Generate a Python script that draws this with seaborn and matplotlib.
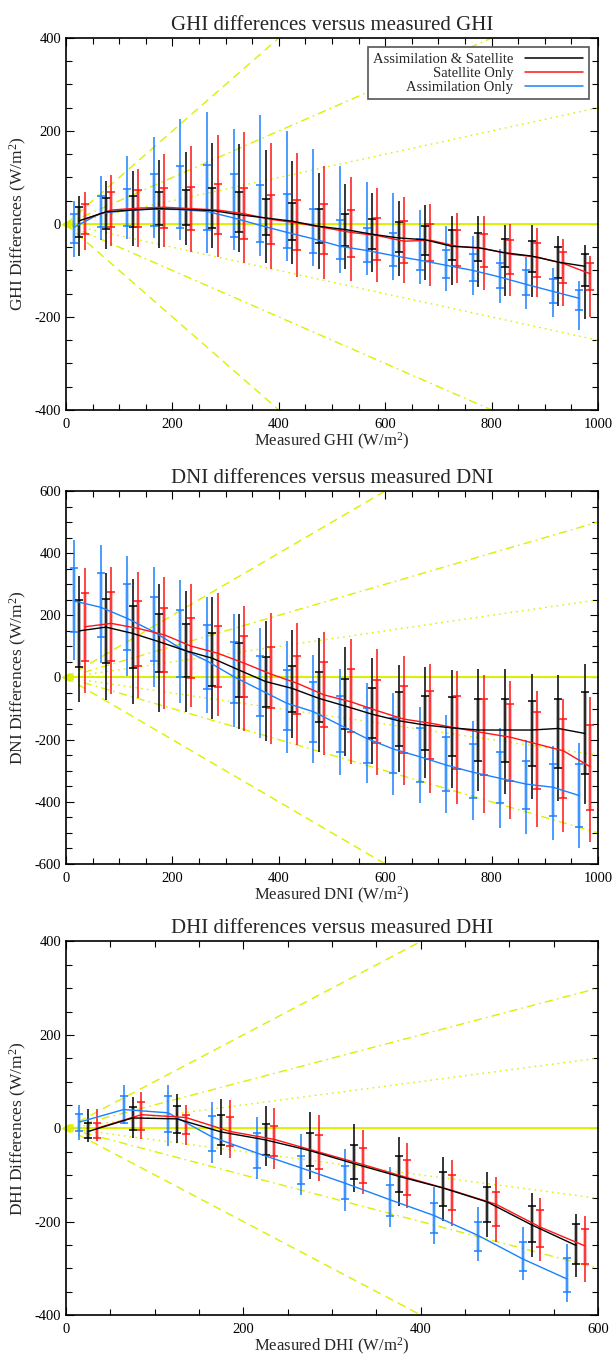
import numpy as np
import pandas as pd
import matplotlib
matplotlib.use("Agg")
import matplotlib.pyplot as plt
import seaborn as sns
from matplotlib.lines import Line2D
from matplotlib.ticker import MultipleLocator

# --- series ---
SERIES = ["Assimilation & Satellite", "Satellite Only", "Assimilation Only"]
COLORS = ["#000000", "#ff1414", "#1a80ff"]
X_OFFSET = [0, 10, -10]
YELLOW = "#dcf000"
REF_SLOPES = [1.0, 0.5, 0.25]
REF_STYLES = [(0, (6, 4)), (0, (6, 3, 1.2, 3)), (0, (1.2, 3))]

# --- GHI panel ---
ghi_bins = [25, 75, 125, 175, 225, 275, 325, 375, 425, 475,
            525, 575, 625, 675, 725, 775, 825, 875, 925, 975]
ghi_as_mean = [7, 26, 30, 33, 31, 29, 20, 13, 6, -5, -12, -22, -30, -34, -48, -51, -62, -69, -82, -91]
ghi_as_lo = [-68, -53, -48, -51, -46, -52, -60, -85, -87, -96, -96, -103, -112, -120, -132, -135, -155, -157, -176, -205]
ghi_as_q1 = [-27, -11, -7, -2, -2, -8, -17, -23, -34, -40, -48, -53, -60, -66, -78, -80, -93, -103, -116, -133]
ghi_as_q3 = [37, 56, 60, 69, 74, 78, 68, 54, 45, 33, 22, 11, 5, -5, -14, -19, -33, -37, -50, -64]
ghi_as_hi = [61, 93, 113, 138, 155, 174, 172, 160, 136, 110, 85, 66, 50, 40, 18, 18, -3, -3, -25, -46]

ghi_sat_mean = [10, 30, 34, 36, 33, 30, 22, 10, 2, -8, -18, -25, -37, -35, -48, -53, -65, -71, -85, -107]
ghi_sat_lo = [-57, -48, -50, -50, -60, -72, -84, -96, -113, -118, -123, -125, -127, -133, -127, -141, -155, -157, -176, -201]
ghi_sat_q1 = [-22, -7, -6, -8, -14, -21, -32, -42, -57, -64, -72, -77, -83, -80, -91, -93, -107, -113, -126, -141]
ghi_sat_q3 = [42, 68, 72, 78, 79, 86, 77, 63, 52, 42, 29, 13, 7, 0, -14, -21, -35, -41, -60, -84]
ghi_sat_hi = [68, 106, 119, 151, 168, 191, 197, 175, 153, 125, 100, 77, 59, 42, 23, 18, -1, -9, -33, -68]

ghi_asm_mean = [-7, 23, 29, 32, 31, 27, 13, -3, -18, -32, -48, -57, -68, -78, -89, -100, -114, -130, -145, -160]
ghi_asm_lo = [-72, -35, -33, -31, -34, -63, -57, -68, -80, -91, -105, -110, -120, -130, -144, -152, -170, -182, -200, -227]
ghi_asm_q1 = [-41, -7, -5, -5, -8, -14, -28, -39, -51, -62, -75, -82, -91, -100, -116, -123, -138, -152, -169, -185]
ghi_asm_q3 = [22, 60, 75, 108, 124, 127, 108, 84, 65, 33, 8, -9, -19, -33, -55, -64, -85, -100, -119, -141]
ghi_asm_hi = [50, 104, 147, 188, 225, 240, 205, 235, 200, 161, 125, 91, 66, 31, -5, -25, -53, -71, -95, -123]

# --- DNI panel ---
dni_bins = [25, 75, 125, 175, 225, 275, 325, 375, 425, 475,
            525, 575, 625, 675, 725, 775, 825, 875, 925, 975]
dni_as_mean = [150, 162, 142, 115, 86, 62, 24, -13, -35, -67, -92, -118, -139, -153, -162, -169, -169, -169, -164, -180]
dni_as_lo = [-80, -72, -86, -112, -112, -135, -167, -203, -196, -239, -252, -278, -303, -324, -355, -365, -376, -391, -397, -408]
dni_as_q1 = [35, 46, 32, 17, 3, -27, -62, -94, -112, -144, -167, -194, -219, -233, -253, -268, -273, -284, -290, -310]
dni_as_q3 = [249, 252, 230, 204, 171, 142, 110, 67, 38, 17, -6, -33, -46, -58, -62, -69, -69, -76, -69, -48]
dni_as_hi = [325, 335, 316, 300, 279, 258, 204, 182, 153, 126, 99, 62, 40, 33, 24, 27, 26, 11, 8, 43]

dni_sat_mean = [163, 174, 158, 137, 101, 78, 46, 11, -19, -56, -78, -107, -134, -147, -163, -178, -192, -214, -236, -287]
dni_sat_lo = [-49, -53, -67, -102, -94, -124, -171, -214, -217, -249, -278, -314, -346, -373, -407, -435, -455, -480, -496, -528]
dni_sat_q1 = [52, 54, 38, 17, -3, -30, -62, -97, -117, -158, -176, -212, -242, -262, -294, -314, -333, -360, -387, -426]
dni_sat_q3 = [272, 276, 247, 223, 192, 166, 134, 99, 69, 49, 27, -8, -26, -43, -60, -70, -85, -112, -134, -153]
dni_sat_hi = [351, 356, 338, 324, 301, 273, 230, 207, 174, 147, 124, 91, 69, 43, 22, 8, -11, -43, -69, -62]

dni_asm_mean = [246, 226, 190, 147, 94, 53, 3, -40, -83, -110, -153, -196, -230, -255, -282, -305, -324, -343, -353, -380]
dni_asm_lo = [55, 46, 6, -30, -83, -115, -158, -196, -244, -276, -314, -340, -378, -403, -437, -459, -483, -505, -523, -550]
dni_asm_q1 = [147, 131, 89, 54, 3, -38, -83, -123, -169, -206, -241, -276, -308, -335, -365, -389, -405, -424, -445, -480]
dni_asm_q3 = [351, 335, 300, 258, 217, 169, 113, 69, 24, -15, -59, -99, -131, -163, -192, -214, -241, -268, -278, -279]
dni_asm_hi = [442, 426, 391, 355, 312, 258, 204, 158, 117, 72, 27, -17, -51, -94, -121, -140, -164, -201, -220, -212]

# --- DHI panel ---
dhi_bins = [25, 75, 125, 175, 225, 275, 325, 375, 425, 475, 525, 575]
dhi_as_mean = [-7, 22, 20, -8, -25, -48, -76, -103, -128, -158, -207, -251]
dhi_as_lo = [-30, -21, -32, -58, -82, -108, -136, -167, -198, -233, -276, -319]
dhi_as_q1 = [-20, -3, -10, -35, -57, -82, -108, -137, -167, -200, -243, -291]
dhi_as_q3 = [12, 46, 48, 28, 8, -10, -35, -60, -93, -125, -167, -206]
dhi_as_hi = [42, 67, 73, 63, 48, 35, 10, -19, -62, -93, -138, -183]

dhi_sat_mean = [0, 29, 23, -7, -24, -51, -78, -106, -133, -163, -212, -252]
dhi_sat_lo = [-28, -23, -37, -64, -87, -113, -142, -171, -209, -244, -284, -330]
dhi_sat_q1 = [-21, -3, -12, -39, -60, -87, -117, -144, -176, -209, -255, -291]
dhi_sat_q3 = [12, 56, 29, 24, 5, -15, -42, -69, -101, -137, -176, -216]
dhi_sat_hi = [42, 78, 50, 60, 44, 28, -3, -31, -69, -105, -149, -187]

dhi_asm_mean = [13, 40, 33, -19, -53, -85, -118, -153, -187, -230, -280, -323]
dhi_asm_lo = [-25, 8, -38, -74, -108, -144, -178, -212, -248, -284, -326, -372]
dhi_asm_q1 = [-7, 12, -8, -49, -85, -120, -151, -187, -225, -262, -305, -351]
dhi_asm_q3 = [30, 68, 68, 26, -10, -60, -81, -121, -160, -200, -244, -278]
dhi_asm_hi = [49, 93, 93, 56, 23, -12, -44, -83, -126, -168, -212, -248]

panels = [
    dict(name="GHI", bins=ghi_bins, xmax=1000, ymax=400,
         rect=[0.1077, 0.6979, 0.8679, 0.2741],
         series=[(ghi_as_mean, ghi_as_lo, ghi_as_q1, ghi_as_q3, ghi_as_hi),
                 (ghi_sat_mean, ghi_sat_lo, ghi_sat_q1, ghi_sat_q3, ghi_sat_hi),
                 (ghi_asm_mean, ghi_asm_lo, ghi_asm_q1, ghi_asm_q3, ghi_asm_hi)]),
    dict(name="DNI", bins=dni_bins, xmax=1000, ymax=600,
         rect=[0.1077, 0.3633, 0.8679, 0.2749],
         series=[(dni_as_mean, dni_as_lo, dni_as_q1, dni_as_q3, dni_as_hi),
                 (dni_sat_mean, dni_sat_lo, dni_sat_q1, dni_sat_q3, dni_sat_hi),
                 (dni_asm_mean, dni_asm_lo, dni_asm_q1, dni_asm_q3, dni_asm_hi)]),
    dict(name="DHI", bins=dhi_bins, xmax=600, ymax=400,
         rect=[0.1077, 0.0310, 0.8679, 0.2752],
         series=[(dhi_as_mean, dhi_as_lo, dhi_as_q1, dhi_as_q3, dhi_as_hi),
                 (dhi_sat_mean, dhi_sat_lo, dhi_sat_q1, dhi_sat_q3, dhi_sat_hi),
                 (dhi_asm_mean, dhi_asm_lo, dhi_asm_q1, dhi_asm_q3, dhi_asm_hi)]),
]

sns.set_theme(style="ticks")
plt.rcParams["font.family"] = ["Liberation Serif", "DejaVu Serif"]
plt.rcParams["mathtext.fontset"] = "custom"
plt.rcParams["mathtext.rm"] = "Liberation Serif"
plt.rcParams["mathtext.it"] = "Liberation Serif:italic"
plt.rcParams["axes.unicode_minus"] = False

fig = plt.figure(figsize=(6.13, 13.57), dpi=100)

for i, p in enumerate(panels):
    ax = fig.add_axes(p["rect"])
    xmax = p["xmax"]

    # yellow reference lines
    ax.axhline(0, color=YELLOW, lw=1.4, zorder=1)
    for s, ls in zip(REF_SLOPES, REF_STYLES):
        for sign in (1, -1):
            ax.plot([0, xmax], [0, sign * s * xmax], color=YELLOW, lw=1.0, ls=ls, zorder=1)
    ax.plot([0], [0], marker="<", color=YELLOW, ms=6, clip_on=False, zorder=2)

    rows = []
    for name, col, off, (mean, lo, q1, q3, hi) in zip(SERIES, COLORS, X_OFFSET, p["series"]):
        x = np.array(p["bins"]) + off
        ax.vlines(x, lo, hi, color=col, lw=1.1, zorder=3)
        ax.vlines(x, q1, q3, color=col, lw=2.8, alpha=0.3, zorder=3)
        ax.plot(x, q1, ls="none", marker="_", ms=5.5, mew=1.1, color=col, zorder=4)
        ax.plot(x, q3, ls="none", marker="_", ms=5.5, mew=1.1, color=col, zorder=4)
        rows.append(pd.DataFrame({"x": x, "diff": mean, "series": name}))
    df = pd.concat(rows, ignore_index=True)

    sns.lineplot(data=df, x="x", y="diff", hue="series",
                 hue_order=[SERIES[2], SERIES[1], SERIES[0]],
                 palette=dict(zip(SERIES, COLORS)), estimator=None,
                 lw=1.0, legend=False, ax=ax, zorder=5)

    ax.set_xlim(0, xmax)
    ax.set_ylim(-p["ymax"], p["ymax"])
    ax.xaxis.set_major_locator(MultipleLocator(200))
    ax.xaxis.set_minor_locator(MultipleLocator(50))
    ax.yaxis.set_major_locator(MultipleLocator(200))
    ax.yaxis.set_minor_locator(MultipleLocator(50))
    ax.tick_params(which="both", direction="in", top=True, right=True,
                   labelsize=10.5, colors="black")
    ax.tick_params(which="major", length=6, width=0.8)
    ax.tick_params(which="minor", length=4, width=0.8)
    ax.tick_params(axis="x", pad=6)
    for sp in ax.spines.values():
        sp.set_visible(True)
        sp.set_color("black")
        sp.set_linewidth(1.2)

    n = p["name"]
    ax.set_title(f"{n} differences versus measured {n}", fontsize=15, pad=6)
    ax.set_xlabel(f"Measured {n} (W/m$^2$)", fontsize=12, labelpad=0)
    ax.set_ylabel(f"{n} Differences (W/m$^2$)", fontsize=12.5, labelpad=4)

    if i == 0:
        handles = [Line2D([], [], color=c, lw=1.1) for c in COLORS]
        leg = ax.legend(handles, SERIES, loc="upper right", markerfirst=False,
                        fontsize=10.5, frameon=True, fancybox=False,
                        edgecolor="#555555", framealpha=1, handlelength=4,
                        labelspacing=0.05, borderpad=0.35, handletextpad=0.8,
                        borderaxespad=0.65)
        leg.get_frame().set_linewidth(1.2)

fig.savefig("out.png", dpi=100)
